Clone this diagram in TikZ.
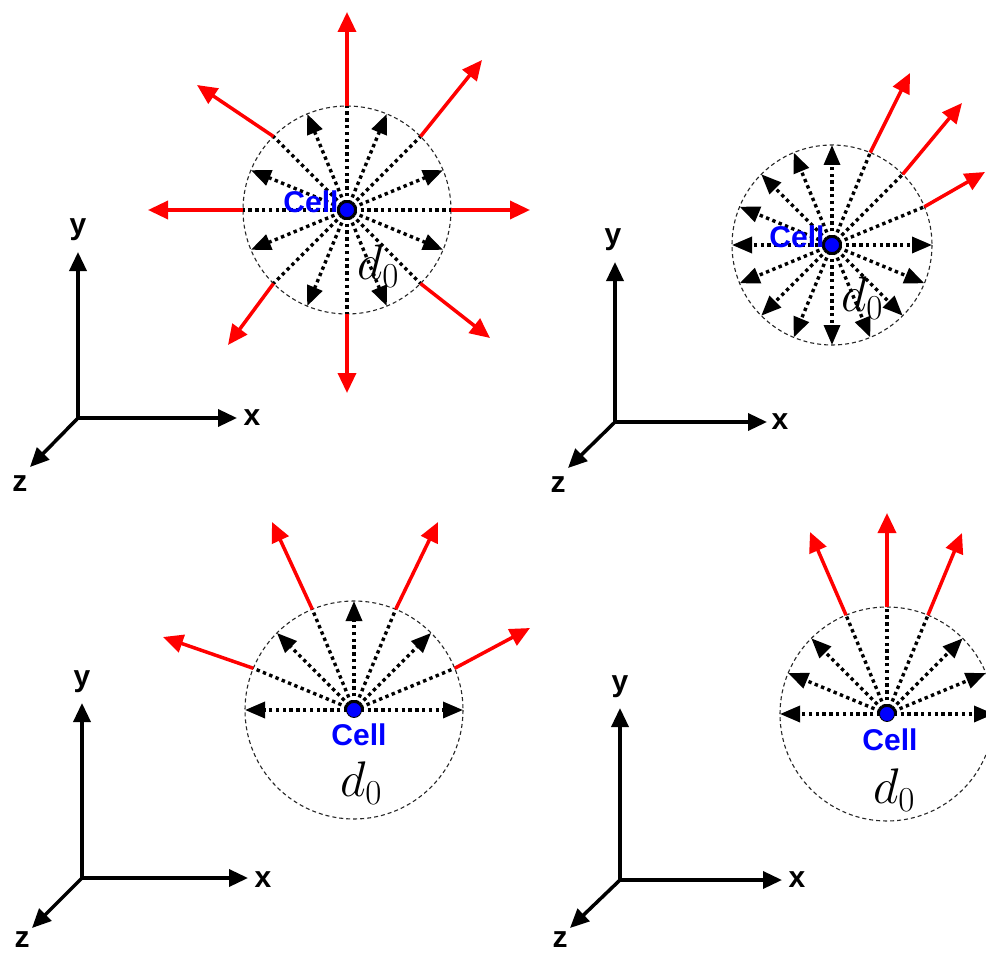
\documentclass[tikz,border=0pt]{standalone}
\usepackage{fix-cm}
\usepackage{fontspec}
\setsansfont{Liberation Sans}
\usetikzlibrary{arrows.meta,calc}

\tikzset{
  ring/.style={draw=black!85, line width=1.1pt, dash pattern=on 4pt off 3pt},
  ray/.style={draw=black, line width=3.4pt, dash pattern=on 3.4pt off 3.4pt},
  rayhead/.style={ray, -{Triangle[length=20pt,width=16pt]}},
  push/.style={draw=red, line width=3.5pt, -{Triangle[length=20pt,width=18pt]}},
  axis/.style={draw=black, line width=3.5pt, -{Triangle[length=19pt,width=17pt]}},
  axlabel/.style={font={\fontsize{30}{30}\selectfont\sffamily\bfseries}, inner sep=0pt},
  celllabel/.style={font={\fontsize{30}{31}\selectfont\sffamily\bfseries}, text=blue, inner sep=0pt},
  dlabel/.style={font={\fontsize{50}{54}\selectfont}, inner sep=0pt},
  celldot/.style={circle, fill=blue, draw=black, line width=0.8pt, minimum size=15pt, inner sep=0pt},
}

\begin{document}
\begin{tikzpicture}[x=1pt,y=-1pt]
\useasboundingbox[fill=white] (0,0) rectangle (986,955);

% ---------------- Panel 1 (top left) ----------------
\coordinate (c1) at (347,210);
\foreach \i in {0,...,15} \coordinate (p1-\i) at ($(c1)+({-\i*22.5}:104)$);
\draw[ring] (c1) circle[radius=104];
\foreach \i in {0,2,...,14} \draw[ray] (c1) -- (p1-\i);
\foreach \i in {1,3,...,15} \draw[rayhead] (c1) -- (p1-\i);
\coordinate (r1-0) at (530,210);
\coordinate (r1-2) at (482,60);
\coordinate (r1-4) at (347,12);
\coordinate (r1-6) at (197,85);
\coordinate (r1-8) at (148,210);
\coordinate (r1-10) at (228,345);
\coordinate (r1-12) at (347,393);
\coordinate (r1-14) at (490,338);
\foreach \i in {0,2,...,14} \draw[push] (p1-\i) -- (r1-\i);
\node[celllabel] (cell1) at (311,202) {Cell};
\node[dlabel] (d1) at (378,266) {$d_0$};
\node[celldot] (dot1) at (c1) {};

% ---------------- Panel 2 (top right) ----------------
\coordinate (c2) at (832,245);
\foreach \i in {0,...,15} \coordinate (p2-\i) at ($(c2)+({-\i*22.5}:100)$);
\draw[ring] (c2) circle[radius=100];
\foreach \i in {1,2,3} \draw[ray] (c2) -- (p2-\i);
\foreach \i in {0,4,5,...,15} \draw[rayhead] (c2) -- (p2-\i);
\coordinate (r2-1) at (985,172);
\coordinate (r2-2) at (962,103);
\coordinate (r2-3) at (910,73);
\foreach \i in {1,2,3} \draw[push] (p2-\i) -- (r2-\i);
\node[celllabel] (cell2) at (797,237) {Cell};
\node[dlabel] (d2) at (862,298) {$d_0$};
\node[celldot] (dot2) at (c2) {};

% ---------------- Panel 3 (bottom left) ----------------
\coordinate (c3) at (354,710);
\foreach \i in {0,...,8} \coordinate (p3-\i) at ($(c3)+({-\i*22.5}:109)$);
\draw[ring] (c3) circle[radius=109];
\foreach \i in {1,3,5,7} \draw[ray] (c3) -- (p3-\i);
\foreach \i in {0,2,4,6,8} \draw[rayhead] (c3) -- (p3-\i);
\coordinate (r3-1) at (530,628);
\coordinate (r3-3) at (438,522);
\coordinate (r3-5) at (272,522);
\coordinate (r3-7) at (163,637);
\foreach \i in {1,3,5,7} \draw[push] (p3-\i) -- (r3-\i);
\node[celllabel] (cell3) at (359,735) {Cell};
\node[dlabel] (d3) at (361,783) {$d_0$};
\node[celldot] (dot3) at (c3) {};

% ---------------- Panel 4 (bottom right) ----------------
\coordinate (c4) at (887,714);
\foreach \i in {0,...,8} \coordinate (p4-\i) at ($(c4)+({-\i*22.5}:107)$);
\draw[ring] (c4) circle[radius=107];
\foreach \i in {3,4,5} \draw[ray] (c4) -- (p4-\i);
\foreach \i in {0,1,2,6,7,8} \draw[rayhead] (c4) -- (p4-\i);
\coordinate (r4-3) at (962,533);
\coordinate (r4-4) at (887,513);
\coordinate (r4-5) at (810,532);
\foreach \i in {3,4,5} \draw[push] (p4-\i) -- (r4-\i);
\node[celllabel] (cell4) at (890,740) {Cell};
\node[dlabel] (d4) at (894,790) {$d_0$};
\node[celldot] (dot4) at (c4) {};

% ---------------- Axes ----------------
% panel 1
\coordinate (o1) at (78,418);
\coordinate (y1) at (78,252);
\coordinate (x1) at (237,418);
\coordinate (z1) at (30,467);
\draw[axis] (o1) -- (y1);
\draw[axis] (o1) -- (x1);
\draw[axis] (o1) -- (z1);
\node[axlabel] (ly1) at (78,230) {y};
\node[axlabel] (lx1) at (252,418) {x};
\node[axlabel] (lz1) at (20,484) {z};
% panel 2
\coordinate (o2) at (615,422);
\coordinate (y2) at (615,262);
\coordinate (x2) at (767,422);
\coordinate (z2) at (568,468);
\draw[axis] (o2) -- (y2);
\draw[axis] (o2) -- (x2);
\draw[axis] (o2) -- (z2);
\node[axlabel] (ly2) at (613,240) {y};
\node[axlabel] (lx2) at (780,422) {x};
\node[axlabel] (lz2) at (558,485) {z};
% panel 3
\coordinate (o3) at (82,878);
\coordinate (y3) at (82,703);
\coordinate (x3) at (248,878);
\coordinate (z3) at (32,928);
\draw[axis] (o3) -- (y3);
\draw[axis] (o3) -- (x3);
\draw[axis] (o3) -- (z3);
\node[axlabel] (ly3) at (82,682) {y};
\node[axlabel] (lx3) at (263,880) {x};
\node[axlabel] (lz3) at (22,940) {z};
% panel 4
\coordinate (o4) at (620,880);
\coordinate (y4) at (620,708);
\coordinate (x4) at (782,880);
\coordinate (z4) at (570,928);
\draw[axis] (o4) -- (y4);
\draw[axis] (o4) -- (x4);
\draw[axis] (o4) -- (z4);
\node[axlabel] (ly4) at (620,687) {y};
\node[axlabel] (lx4) at (797,880) {x};
\node[axlabel] (lz4) at (560,940) {z};
\end{tikzpicture}
\end{document}
